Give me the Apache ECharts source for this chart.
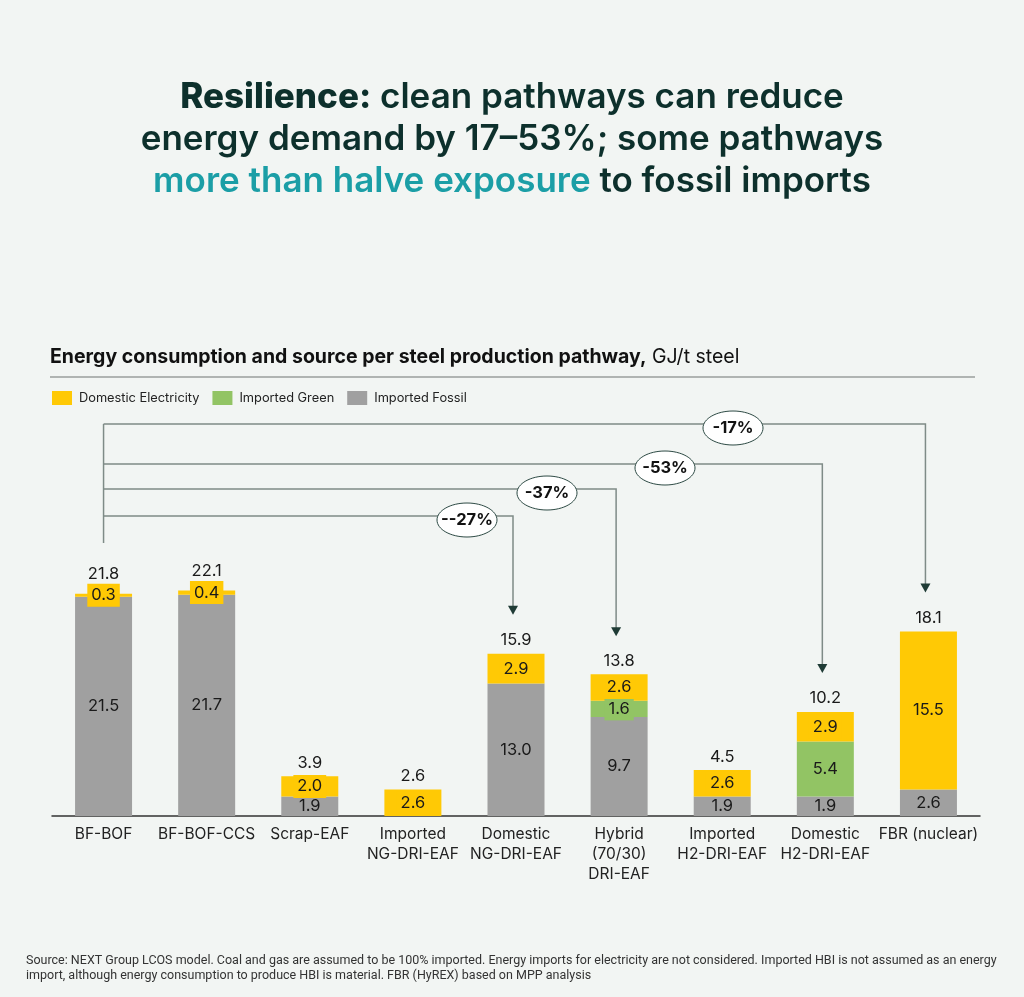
<!DOCTYPE html>
<html>
<head>
<meta charset="utf-8">
<script src="https://cdn.jsdelivr.net/npm/echarts@6/dist/echarts.min.js"></script>
<style>
  html, body { margin: 0; padding: 0; background: #f2f5f3; }
  #chart { width: 1024px; height: 997px; }
</style>
</head>
<body>
<div id="chart"></div>
<script>
var pathways = ['BF-BOF', 'BF-BOF-CCS', 'Scrap-EAF', 'Imported\nNG-DRI-EAF', 'Domestic\nNG-DRI-EAF',
  'Hybrid\n(70/30)\nDRI-EAF', 'Imported\nH2-DRI-EAF', 'Domestic\nH2-DRI-EAF', 'FBR (nuclear)'];
var importedFossil = [21.5, 21.7, 1.9, 0, 13.0, 9.7, 1.9, 1.9, 2.6];
var importedGreen = [0, 0, 0, 0, 0, 1.6, 0, 5.4, 0];
var domesticElectricity = [0.3, 0.4, 2.0, 2.6, 2.9, 2.6, 2.6, 2.9, 15.5];
var totals = [21.8, 22.1, 3.9, 2.6, 15.9, 13.8, 4.5, 10.2, 18.1];
var reductionLabels = ['-17%', '-53%', '-37%', '--27%'];
var reductionTargets = [8, 7, 5, 4];

var FONT = 'Inter, "Noto Sans", sans-serif';
var colors = { elec: '#ffc905', green: '#92c464', fossil: '#a0a0a0' };

function segData(arr) {
  return arr.map(function (v) {
    return v > 0 ? v : { value: 0, label: { show: false } };
  });
}

function segLabel(bg) {
  return {
    show: true,
    position: 'inside',
    fontFamily: FONT,
    fontSize: 16.5,
    color: '#1a1a1a',
    backgroundColor: bg,
    padding: [3, 4],
    formatter: function (p) { return p.value.toFixed(1); }
  };
}

var chart = echarts.init(document.getElementById('chart'));
var option = {
  backgroundColor: '#f2f5f3',
  animation: false,
  textStyle: { fontFamily: FONT },
  legend: {
    left: 52,
    top: 391,
    padding: 0,
    itemWidth: 20,
    itemHeight: 14,
    itemGap: 13,
    icon: 'rect',
    data: ['Domestic Electricity', 'Imported Green', 'Imported Fossil'],
    textStyle: { fontFamily: FONT, fontSize: 12.8, color: '#222', padding: [0, 0, 0, 2] }
  },
  grid: { left: 52, right: 44, top: 408, bottom: 181 },
  xAxis: {
    type: 'category',
    data: pathways,
    axisLine: { lineStyle: { color: '#333', width: 1.5 } },
    axisTick: { show: false },
    axisLabel: { fontFamily: FONT, fontSize: 15.5, color: '#222', lineHeight: 20, margin: 8, interval: 0 }
  },
  yAxis: { type: 'value', min: 0, max: 40, show: false, splitLine: { show: false } },
  series: [
    {
      name: 'Imported Fossil', type: 'bar', stack: 'e', barWidth: 57,
      itemStyle: { color: colors.fossil },
      label: segLabel(null),
      data: segData(importedFossil)
    },
    {
      name: 'Imported Green', type: 'bar', stack: 'e', barWidth: 57,
      itemStyle: { color: colors.green },
      label: segLabel(colors.green),
      data: segData(importedGreen)
    },
    {
      name: 'Domestic Electricity', type: 'bar', stack: 'e', barWidth: 57,
      itemStyle: { color: colors.elec },
      label: segLabel(colors.elec),
      data: segData(domesticElectricity)
    },
    {
      name: 'Total', type: 'bar', stack: 'e', barWidth: 57,
      itemStyle: { color: 'rgba(0,0,0,0)' },
      label: {
        show: true, position: 'top', distance: 5, fontFamily: FONT, fontSize: 16.5, color: '#1a1a1a',
        formatter: function (p) { return totals[p.dataIndex].toFixed(1); }
      },
      // thin top segments carry a boxed label, so lift the total above the box
      data: totals.map(function (t, i) {
        return domesticElectricity[i] < 1 ? { value: 0, label: { distance: 11 } } : 0;
      })
    }
  ]
};
chart.setOption(option);

// Title, subtitle, footnote and the reduction brackets
var gfx = [
  {
    type: 'text', x: 512, y: 97,
    style: {
      text: '{b|Resilience:}{s| clean pathways can reduce}',
      align: 'center', verticalAlign: 'middle',
      rich: {
        b: { fontFamily: FONT, fontSize: 35, fontWeight: 800, fill: '#0d302c' },
        s: { fontFamily: FONT, fontSize: 35, fontWeight: 600, fill: '#0d302c' }
      }
    }
  },
  {
    type: 'text', x: 512, y: 139,
    style: {
      text: 'energy demand by 17–53%; some pathways',
      align: 'center', verticalAlign: 'middle',
      fontFamily: FONT, fontSize: 35, fontWeight: 600, fill: '#0d302c'
    }
  },
  {
    type: 'text', x: 512, y: 181,
    style: {
      text: '{t|more than halve exposure}{s| to fossil imports}',
      align: 'center', verticalAlign: 'middle',
      rich: {
        t: { fontFamily: FONT, fontSize: 35, fontWeight: 600, fill: '#1b9ea6' },
        s: { fontFamily: FONT, fontSize: 35, fontWeight: 600, fill: '#0d302c' }
      }
    }
  },
  {
    type: 'text', x: 50, y: 357,
    style: {
      text: '{b|Energy consumption and source per steel production pathway,}{r| GJ/t steel}',
      verticalAlign: 'middle',
      rich: {
        b: { fontFamily: FONT, fontSize: 19.5, fontWeight: 700, fill: '#111' },
        r: { fontFamily: FONT, fontSize: 19.5, fontWeight: 400, fill: '#111' }
      }
    }
  },
  {
    type: 'line', shape: { x1: 50, y1: 377, x2: 975, y2: 377 },
    style: { stroke: '#9a9e9c', lineWidth: 1.5 }
  },
  {
    type: 'text', x: 26, y: 968,
    style: {
      text: 'Source: NEXT Group LCOS model. Coal and gas are assumed to be 100% imported. Energy imports for electricity are not considered. Imported HBI is not assumed as an energy\nimport, although energy consumption to produce HBI is material. FBR (HyREX) based on MPP analysis',
      verticalAlign: 'middle', lineHeight: 15,
      fontFamily: '"Roboto", sans-serif', fontSize: 12.5, fill: '#333'
    }
  }
];

var lineColor = '#7f8b87';
var arrowColor = '#1f3b35';
var levelY = [424, 464, 489, 516];
var ovalX = [733, 665, 547, 467];
var x0 = chart.convertToPixel({ xAxisIndex: 0 }, 0);

gfx.push({
  type: 'line', shape: { x1: x0, y1: levelY[0], x2: x0, y2: 543 },
  style: { stroke: lineColor, lineWidth: 1.5 }
});

reductionTargets.forEach(function (t, k) {
  var xt = chart.convertToPixel({ xAxisIndex: 0 }, t) - 3;
  var tip = chart.convertToPixel({ yAxisIndex: 0 }, totals[t]) - 39;
  var y = levelY[k];
  gfx.push({
    type: 'polyline',
    shape: { points: [[x0, y], [xt, y], [xt, tip - 8]] },
    style: { stroke: lineColor, lineWidth: 1.5, fill: null }
  });
  gfx.push({
    type: 'polygon',
    shape: { points: [[xt - 5, tip - 9], [xt + 5, tip - 9], [xt, tip]] },
    style: { fill: arrowColor }
  });
  gfx.push({
    type: 'ellipse',
    shape: { cx: ovalX[k], cy: y + 4, rx: 30, ry: 17 },
    style: { fill: '#ffffff', stroke: '#2d4a44', lineWidth: 1 }
  });
  gfx.push({
    type: 'text', x: ovalX[k], y: y + 4,
    style: {
      text: reductionLabels[k], align: 'center', verticalAlign: 'middle',
      fontFamily: FONT, fontSize: 16.5, fontWeight: 700, fill: '#111'
    }
  });
});

chart.setOption({ graphic: gfx });
</script>
</body>
</html>
